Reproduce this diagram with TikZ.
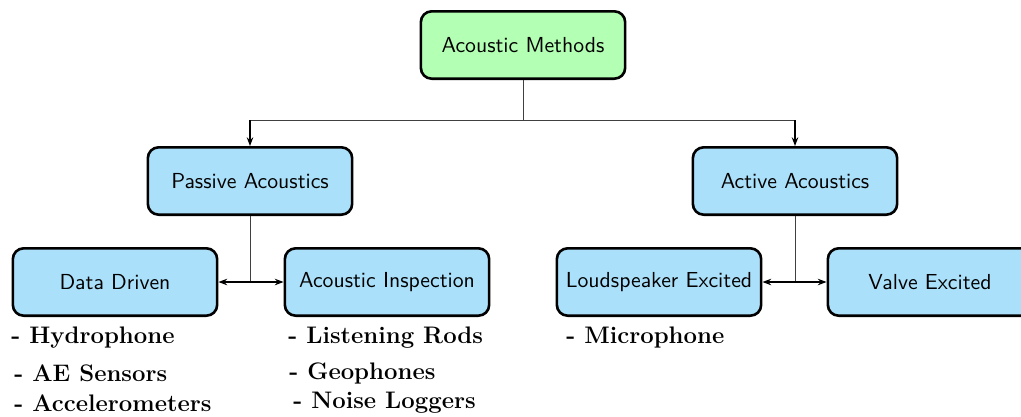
\documentclass[tikz,border=0pt]{standalone}
\usepackage{amsmath}
\usetikzlibrary{calc}
\usetikzlibrary{arrows.meta}
\definecolor{methodgreen}{RGB}{179,255,179}
\definecolor{branchblue}{RGB}{170,224,250}
\tikzstyle{methodbox}=[draw,very thick,rounded corners=5pt,minimum width=94pt,minimum height=31pt,font=\sffamily,align=center]
\tikzstyle{sensortext}=[anchor=west,inner sep=0pt,font=\fontsize{11}{13}\selectfont\bfseries]
\tikzstyle{splitline}=[thin,black!75]
\tikzstyle{branchassign}=[-{Stealth[length=4pt,width=3pt]},semithick]
\tikzstyle{childassign}=[{Stealth[length=4pt,width=3pt]}-{Stealth[length=4pt,width=3pt]},semithick]
\newcommand{\newsensor}[3]{ % Syntax: {name}{position}{text}
\node[sensortext] (#1) at (#2) {- #3};
}

\begin{document}
\begin{tikzpicture}[x=0.46pt,y=0.46pt]
  \useasboundingbox (0,0) rectangle (1021,-416);
  % top level
  \node[methodbox,fill=methodgreen] (methods) at (523,-45) {Acoustic Methods};
  \node[methodbox,fill=branchblue] (passive) at (250,-181) {Passive Acoustics};
  \node[methodbox,fill=branchblue] (active) at (795,-181) {Active Acoustics};
  % bottom level
  \node[methodbox,fill=branchblue] (datadriven) at (115,-282) {Data Driven};
  \node[methodbox,fill=branchblue] (inspection) at (387,-282) {Acoustic Inspection};
  \node[methodbox,fill=branchblue] (loudspeaker) at (659,-282) {Loudspeaker Excited};
  \node[methodbox,fill=branchblue] (valve) at (930,-282) {Valve Excited};
  % connectors
  \coordinate (split) at ($(methods.south)+(0,-40)$);
  \coordinate (passivein) at (split -| passive.north);
  \coordinate (activein) at (split -| active.north);
  \draw[splitline] (methods.south) -- (split);
  \draw[splitline] (passivein) -- (activein);
  \draw[branchassign] (passivein) -- (passive.north);
  \draw[branchassign] (activein) -- (active.north);
  \draw[splitline] (passive.south) -- (passive.south |- datadriven.east);
  \draw[splitline] (active.south) -- (active.south |- loudspeaker.east);
  \draw[childassign] (datadriven.east) -- (inspection.west);
  \draw[childassign] (loudspeaker.east) -- (valve.west);
  % sensors under the boxes
  \newsensor{hydro}{11,-338}{Hydrophone}
  \newsensor{aesensors}{14,-373}{AE Sensors}
  \newsensor{accel}{14,-403}{Accelerometers}
  \newsensor{rods}{288,-338}{Listening Rods}
  \newsensor{geo}{289,-373}{Geophones}
  \newsensor{loggers}{293,-403}{Noise Loggers}
  \newsensor{micro}{566,-338}{Microphone}
\end{tikzpicture}
\end{document}
